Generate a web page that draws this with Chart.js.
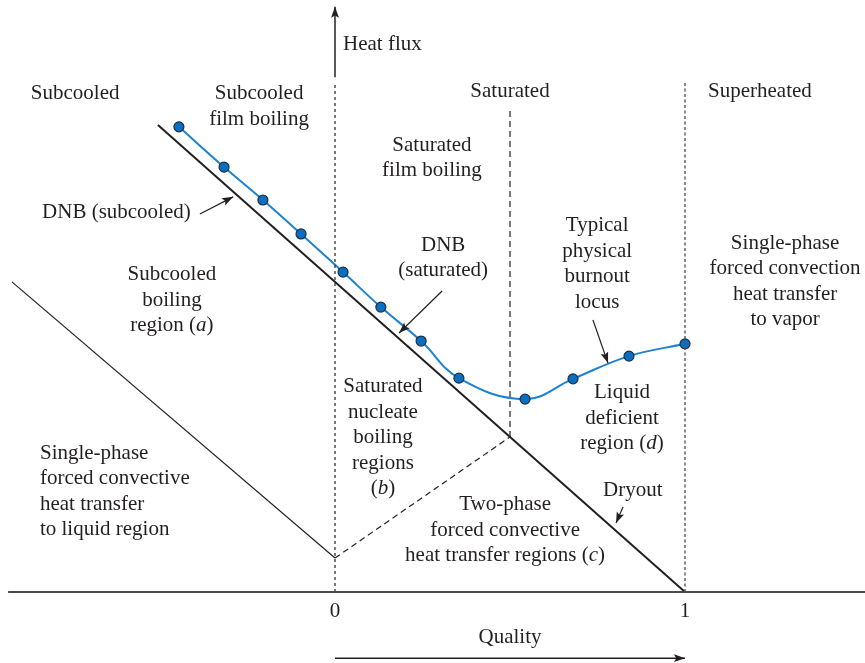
<!DOCTYPE html>
<html><head><meta charset="utf-8">
<script src="https://cdn.jsdelivr.net/npm/chart.js@4"></script>
<style>html,body{margin:0;padding:0;background:#fff}canvas{display:block}</style>
</head><body>
<canvas id="c" width="865" height="663"></canvas>
<script>
// Typical physical burnout locus: quality vs heat flux (relative units)
const burnoutQuality = [-0.446, -0.317, -0.206, -0.097, 0.023, 0.131, 0.246, 0.354, 0.543, 0.680, 0.840, 1.000];
const burnoutFlux    = [ 1.329,  1.214,  1.120,  1.023, 0.914, 0.814, 0.717, 0.611, 0.551, 0.609, 0.674, 0.709];

// DNB (subcooled / saturated) and dryout boundary
const dnbQuality = [-0.506, 1.0];
const dnbFlux    = [ 1.334, 0.0];

// Onset of subcooled boiling (end of single-phase liquid region)
const onsetQuality = [-0.923, 0.0];
const onsetFlux    = [ 0.886, 0.097];

// Onset of saturated nucleate boiling
const satOnsetQuality = [0.0, 0.5];
const satOnsetFlux    = [0.097, 0.443];

// Quality axis ticks
const qualityTicks = [0, 1];
const qualityTickLabels = ['0', '1'];

const INK = '#231f20';
const FONT = '"Liberation Serif", "Times New Roman", serif';
const FONT_SIZE = 21;
const LINE_STEP = 25.5;

const pts = (xs, ys) => xs.map((x, i) => ({ x, y: ys[i] }));
const seg = (x0, y0, x1, y1) => [{ x: x0, y: y0 }, { x: x1, y: y1 }];

// Region and pointer labels (anchor in data units, first line)
const labels = [
  { at: [-0.869, 1.423], align: 'left',   lines: ['Subcooled'] },
  { at: [-0.217, 1.423], align: 'center', lines: ['Subcooled', 'film boiling'] },
  { at: [ 0.023, 1.563], align: 'left',   lines: ['Heat flux'] },
  { at: [ 0.500, 1.431], align: 'center', lines: ['Saturated'] },
  { at: [ 1.214, 1.429], align: 'center', lines: ['Superheated'] },
  { at: [ 0.277, 1.277], align: 'center', lines: ['Saturated', 'film boiling'] },
  { at: [-0.837, 1.083], align: 'left',   lines: ['DNB (subcooled)'] },
  { at: [-0.466, 0.906], align: 'center', lines: ['Subcooled', 'boiling', 'region (*a*)'] },
  { at: [ 0.309, 0.991], align: 'center', lines: ['DNB', '(saturated)'] },
  { at: [ 0.749, 1.046], align: 'center', lines: ['Typical', 'physical', 'burnout', 'locus'] },
  { at: [ 1.286, 0.997], align: 'center', lines: ['Single-phase', 'forced convection', 'heat transfer', 'to vapor'] },
  { at: [ 0.820, 0.569], align: 'center', lines: ['Liquid', 'deficient', 'region (*d*)'] },
  { at: [ 0.137, 0.586], align: 'center', lines: ['Saturated', 'nucleate', 'boiling', 'regions', '(*b*)'] },
  { at: [-0.843, 0.397], align: 'left',   lines: ['Single-phase', 'forced convective', 'heat transfer', 'to liquid region'] },
  { at: [ 0.486, 0.249], align: 'center', lines: ['Two-phase', 'forced convective', 'heat transfer regions (*c*)'] },
  { at: [ 0.766, 0.289], align: 'left',   lines: ['Dryout'] },
  { at: [ 0.500, -0.129], align: 'center', lines: ['Quality'] }
];

const lineDs = (data, extra) => Object.assign({
  data, showLine: true, pointRadius: 0, borderColor: INK, borderWidth: 1.3,
  fill: false, tension: 0
}, extra);

const datasets = [
  // horizontal (quality) axis
  lineDs(seg(-0.934, 0, 1.52, 0), { borderColor: '#4a4a4a', borderWidth: 2 }),
  // heat flux axis with arrow
  lineDs(seg(0, 1.471, 0, 1.672), { borderWidth: 1.5, arrowHead: 11 }),
  // region boundaries
  lineDs(seg(0, 0, 0, 1.457), { borderWidth: 1.2, borderDash: [3, 3] }),
  lineDs(seg(1, 0, 1, 1.457), { borderWidth: 1.4, borderDash: [3, 2.5], borderColor: '#555' }),
  lineDs(seg(0.5, satOnsetFlux[1], 0.5, 1.386), { borderWidth: 1.2, borderDash: [6, 4] }),
  // onset of saturated boiling (dashed)
  lineDs(pts(satOnsetQuality, satOnsetFlux), { borderWidth: 1.2, borderDash: [6, 4] }),
  // onset of subcooled boiling
  lineDs(pts(onsetQuality, onsetFlux), { borderWidth: 1.2 }),
  // DNB / dryout line
  lineDs(pts(dnbQuality, dnbFlux), { borderWidth: 2 }),
  // pointer arrows
  lineDs(seg(-0.386, 1.080, -0.291, 1.129), { borderWidth: 1.2, arrowHead: 11 }),
  lineDs(seg( 0.306, 0.860,  0.183, 0.740), { borderWidth: 1.2, arrowHead: 11 }),
  lineDs(seg( 0.737, 0.777,  0.780, 0.654), { borderWidth: 1.2, arrowHead: 11 }),
  lineDs(seg( 0.823, 0.243,  0.803, 0.197), { borderWidth: 1.2, arrowHead: 11 }),
  // quality direction arrow
  lineDs(seg(0, -0.189, 1, -0.189), { borderWidth: 1.5, arrowHead: 11 }),
  // burnout locus
  {
    data: pts(burnoutQuality, burnoutFlux), showLine: true, fill: false,
    borderColor: '#1c82d2', borderWidth: 2, tension: 0.4,
    pointRadius: 5, pointBackgroundColor: '#0b6fc1', pointBorderColor: '#1d2f45',
    pointBorderWidth: 1.2
  }
];

const arrowPlugin = {
  id: 'arrowHeads',
  afterDatasetsDraw(chart) {
    const ctx = chart.ctx;
    chart.data.datasets.forEach((ds, i) => {
      if (!ds.arrowHead) return;
      const p = chart.getDatasetMeta(i).data;
      const a = p[p.length - 2], b = p[p.length - 1];
      const ang = Math.atan2(b.y - a.y, b.x - a.x);
      const L = ds.arrowHead, W = L * 0.36;
      ctx.save();
      ctx.translate(b.x, b.y);
      ctx.rotate(ang);
      ctx.fillStyle = ds.borderColor;
      ctx.beginPath();
      ctx.moveTo(0, 0);
      ctx.lineTo(-L, -W);
      ctx.lineTo(-L * 0.8, 0);
      ctx.lineTo(-L, W);
      ctx.closePath();
      ctx.fill();
      ctx.restore();
    });
  }
};

function drawRich(ctx, text, x, y, align) {
  const parts = text.split('*').map((t, i) => ({ t, it: i % 2 === 1 }));
  const fontOf = it => (it ? 'italic ' : '') + FONT_SIZE + 'px ' + FONT;
  let total = 0;
  parts.forEach(p => { ctx.font = fontOf(p.it); p.w = ctx.measureText(p.t).width; total += p.w; });
  let cx = align === 'center' ? x - total / 2 : x;
  ctx.textAlign = 'left';
  parts.forEach(p => { ctx.font = fontOf(p.it); ctx.fillText(p.t, cx, y); cx += p.w; });
}

const textPlugin = {
  id: 'regionText',
  afterDraw(chart) {
    const { ctx, scales: { x, y } } = chart;
    ctx.save();
    ctx.fillStyle = INK;
    ctx.textBaseline = 'middle';
    labels.forEach(l => {
      const px = x.getPixelForValue(l.at[0]);
      const py = y.getPixelForValue(l.at[1]);
      l.lines.forEach((s, k) => drawRich(ctx, s, px, py + k * LINE_STEP, l.align));
    });
    // quality tick labels under the axis
    qualityTicks.forEach((q, k) => {
      drawRich(ctx, qualityTickLabels[k], x.getPixelForValue(q), y.getPixelForValue(-0.057), 'center');
    });
    ctx.restore();
  }
};

new Chart(document.getElementById('c'), {
  type: 'scatter',
  data: { datasets },
  options: {
    responsive: false,
    animation: false,
    devicePixelRatio: 1,
    layout: { padding: 0, autoPadding: false },
    plugins: { legend: { display: false }, tooltip: { enabled: false } },
    scales: {
      x: { type: 'linear', display: false, min: -335 / 350, max: 530 / 350 },
      y: { type: 'linear', display: false, min: -71 / 350, max: 592 / 350 }
    }
  },
  plugins: [arrowPlugin, textPlugin]
});
</script>
</body></html>
